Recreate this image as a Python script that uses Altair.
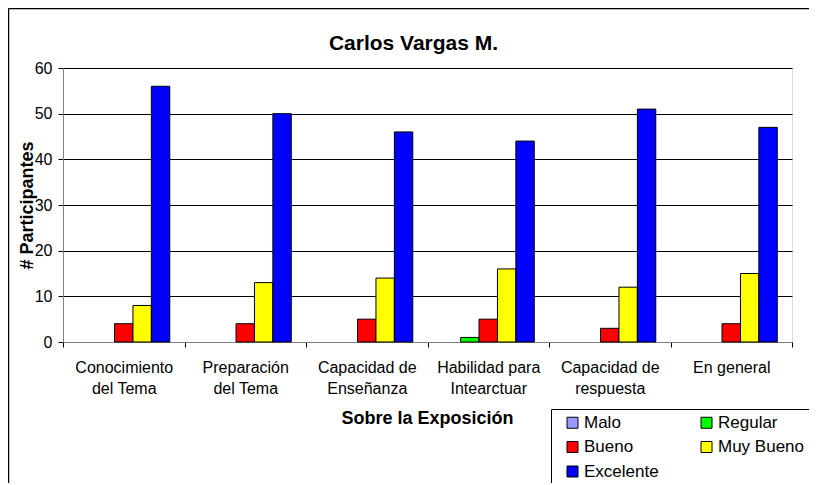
import altair as alt
import pandas as pd

categorias = ["Conocimiento|del Tema", "Preparación|del Tema", "Capacidad de|Enseñanza",
              "Habilidad para|Intearctuar", "Capacidad de|respuesta", "En general"]
series = ["Malo", "Regular", "Bueno", "Muy Bueno", "Excelente"]
orden_leyenda = ["Malo", "Bueno", "Excelente", "Regular", "Muy Bueno"]
colores = ["#9999FF", "#00FF00", "#FF0000", "#FFFF00", "#0000FF"]
malo = [0, 0, 0, 0, 0, 0]
regular = [0, 0, 0, 1, 0, 0]
bueno = [4, 4, 5, 5, 3, 4]
muy_bueno = [8, 13, 14, 16, 12, 15]
excelente = [56, 50, 46, 44, 51, 47]

valores = {"Malo": malo, "Regular": regular, "Bueno": bueno,
           "Muy Bueno": muy_bueno, "Excelente": excelente}
rows = []
for s in series:
    for c, v in zip(categorias, valores[s]):
        rows.append({"cat": c, "serie": s, "valor": v})
df = pd.DataFrame(rows)
df = df[df["valor"] > 0]

FONT = "Liberation Sans"

bars = alt.Chart(df).mark_bar(stroke="black", strokeWidth=1).encode(
    x=alt.X("cat:N", sort=categorias,
            scale=alt.Scale(domain=categorias, paddingInner=0, paddingOuter=0),
            title="Sobre la Exposición",
            axis=alt.Axis(labelExpr="split(datum.label, '|')", labelAngle=0,
                          labelFont=FONT, labelFontSize=16, labelColor="black",
                          labelLineHeight=21, labelPadding=12,
                          tickBand="extent", tickSize=5, tickColor="black",
                          domainColor="#808080",
                          titleFont=FONT, titleFontSize=18, titleFontWeight="bold",
                          titleColor="black", titleX=364, titleY=76,
                          titleBaseline="middle")),
    xOffset=alt.XOffset("serie:N",
                        scale=alt.Scale(domain=series, paddingInner=0, paddingOuter=0.8)),
    y=alt.Y("valor:Q", scale=alt.Scale(domain=[0, 60]),
            title="# Participantes",
            axis=alt.Axis(values=[0, 10, 20, 30, 40, 50, 60], grid=True,
                          gridColor="black", gridWidth=1,
                          tickSize=5, tickColor="black", domainColor="#808080",
                          labelFont=FONT, labelFontSize=16, labelColor="black",
                          labelPadding=6,
                          titleFont=FONT, titleFontSize=18, titleFontWeight="bold",
                          titleColor="black", titleX=-35.5, titleY=137,
                          titleAngle=270, titleBaseline="middle", titleAlign="center")),
    color=alt.Color("serie:N", scale=alt.Scale(domain=series, range=colores),
                    legend=alt.Legend(title=None, orient="none", legendX=488, legendY=341,
                                      values=orden_leyenda,
                                      columns=2, symbolType="square", symbolSize=121,
                                      symbolStrokeColor="black", symbolStrokeWidth=1,
                                      symbolOffset=8,
                                      labelFont=FONT, labelFontSize=17, labelColor="black",
                                      fillColor="white", strokeColor="black",
                                      padding=5, rowPadding=6.5, columnPadding=31,
                                      labelOffset=3)),
)

marco = pd.DataFrame({"k": [0]})
borde_izq = alt.Chart(marco).mark_rule(color="black", strokeWidth=1.5).encode(
    x=alt.value(-54.5), y=alt.value(-59.5), y2=alt.value(600))
borde_sup = alt.Chart(marco).mark_rule(color="black", strokeWidth=1.5).encode(
    x=alt.value(-54.5), x2=alt.value(1000), y=alt.value(-59.5))

chart = alt.layer(borde_izq, borde_sup, bars).properties(
    width=729, height=274,
    title=alt.TitleParams("Carlos Vargas M.", font=FONT, fontSize=21, fontWeight="bold",
                          color="black", anchor="middle", dx=-14, dy=56, offset=10),
    autosize=alt.AutoSizeParams(type="none"),
    padding={"left": 55, "top": 60, "right": 17, "bottom": 141},
).configure_view(fill="#C0C0C0", stroke="#808080").configure(background="white")

chart.save("out.html", embed_options={"renderer": "svg", "actions": False})
